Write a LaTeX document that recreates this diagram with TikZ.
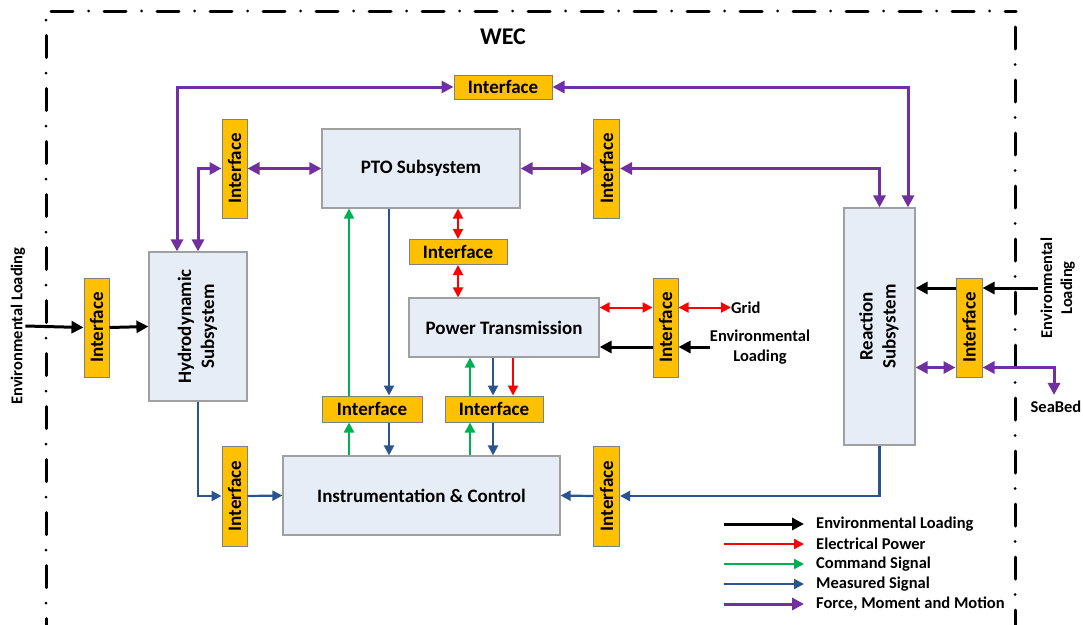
\documentclass[tikz,border=0pt]{standalone}
\usepackage{fontspec}
\setmainfont{Carlito}
\usetikzlibrary{arrows.meta}
\definecolor{fmm}{HTML}{7030A0}
\definecolor{elec}{HTML}{FF0000}
\definecolor{cmd}{HTML}{00B050}
\definecolor{meas}{HTML}{2A5490}
\definecolor{boxfill}{HTML}{E7EDF6}
\definecolor{boxline}{HTML}{A0A0A0}
\definecolor{ifyellow}{HTML}{FFC000}
\definecolor{ifline}{HTML}{808080}

\begin{document}
\begin{tikzpicture}[line join=miter,x=1pt,y=-1pt,
	sub/.style={draw=boxline,line width=1.2pt,fill=boxfill,inner sep=0pt,
		font=\fontsize{19}{23}\selectfont\bfseries},
	iface/.style={draw=ifline,line width=1pt,fill=ifyellow,inner sep=0pt,
		font=\fontsize{19}{23}\selectfont\bfseries},
	lbl/.style={inner sep=0pt,align=center,font=\fontsize{16.5}{20}\selectfont\bfseries},
	envarr/.style={line width=3pt,draw=black,>={Triangle[length=12pt,width=12pt]}},
	elecarr/.style={line width=2pt,draw=elec,>={Triangle[length=10pt,width=10pt]}},
	cmdarr/.style={line width=2.2pt,draw=cmd,>={Triangle[length=10pt,width=10pt]}},
	measarr/.style={line width=2.2pt,draw=meas,>={Triangle[length=10pt,width=10pt]}},
	fmmarr/.style={line width=3pt,draw=fmm,>={Triangle[length=12pt,width=12pt]}}]
	\useasboundingbox (0,0) rectangle (1083,624);
	% cadre WEC
	\draw[line width=3pt,line cap=round,dash pattern=on 22pt off 15.5pt on 0pt off 15.5pt] (51,11) -- (1016,11);
	\draw[line width=3pt,line cap=round,dash pattern=on 0pt off 15.5pt on 22pt off 15.5pt] (46,20) -- (46,630);
	\draw[line width=3pt,line cap=round,dash pattern=on 22pt off 15.5pt on 0pt off 15.5pt] (1015,27) -- (1015,630);
	\node[font=\fontsize{24}{28}\selectfont\bfseries] (wec) at (503,37) {WEC};
	% sous-systemes
	\node[sub,minimum width=98,minimum height=149] (hyd) at (198,326.5)
		{\rotatebox{90}{\begin{tabular}{@{}c@{}}Hydrodynamic\\Subsystem\end{tabular}}};
	\node[sub,minimum width=198,minimum height=79] (pto) at (421,168.5) {PTO Subsystem};
	\node[sub,minimum width=190,minimum height=59] (ptr) at (504,327.5) {Power Transmission};
	\node[sub,minimum width=277,minimum height=79] (ic) at (421.5,495.5) {Instrumentation \& Control};
	\node[sub,minimum width=71,minimum height=237] (rea) at (879.5,326.5)
		{\rotatebox{90}{\begin{tabular}{@{}c@{}}Reaction\\Subsystem\end{tabular}}};
	% interfaces
	\node[iface,minimum width=98,minimum height=24] (ift) at (503,87) {Interface};
	\node[iface,minimum width=25,minimum height=99] (ifa) at (234.5,168.5) {\rotatebox{90}{Interface}};
	\node[iface,minimum width=26,minimum height=99] (ifb) at (606.5,168.5) {\rotatebox{90}{Interface}};
	\node[iface,minimum width=98,minimum height=25] (ifc) at (458,252) {Interface};
	\node[iface,minimum width=25,minimum height=99] (ifd) at (665.5,327.5) {\rotatebox{90}{Interface}};
	\node[iface,minimum width=25,minimum height=99] (ifl) at (96.5,327.5) {\rotatebox{90}{Interface}};
	\node[iface,minimum width=26,minimum height=99] (ifr) at (969,327.5) {\rotatebox{90}{Interface}};
	\node[iface,minimum width=25,minimum height=100] (ife) at (234.5,496) {\rotatebox{90}{Interface}};
	\node[iface,minimum width=26,minimum height=100] (iff) at (606.5,496) {\rotatebox{90}{Interface}};
	\node[iface,minimum width=100,minimum height=26] (ifg) at (372,409) {Interface};
	\node[iface,minimum width=98,minimum height=26] (ifh) at (494,409) {Interface};
	% textes
	\node[lbl] (envl) at (18,326) {\rotatebox{90}{Environmental Loading}};
	\node[lbl] (envm) at (760,347) {Environmental\\Loading};
	\node[lbl] (envr) at (1058,288)
		{\rotatebox{90}{\begin{tabular}{@{}c@{}}Environmental\\Loading\end{tabular}}};
	\node[lbl,anchor=west] (grid) at (731,307.5) {Grid};
	\node[lbl] (seabed) at (1056,407) {SeaBed};
	% force, moment et mouvement
	\draw[fmmarr,<->] ([xshift=-21pt]hyd.north) |- (ift.west);
	\draw[fmmarr,<->] (ift.east) -| ([xshift=28.5pt]rea.north);
	\draw[fmmarr,<->] (hyd.north) |- (ifa.west);
	\draw[fmmarr,<->] (ifa.east) -- (pto.west);
	\draw[fmmarr,<->] (pto.east) -- (ifb.west);
	\draw[fmmarr,<->] (ifb.east) -| (rea.north);
	\draw[fmmarr,<->] ([yshift=-40pt]ifr.west) -- ([yshift=-40pt]ifr.west -| rea.east);
	\draw[fmmarr,<->] ([yshift=-40pt]ifr.east) -| ([xshift=-2pt,yshift=6pt]seabed.north);
	% puissance electrique
	\draw[elecarr,<->] (ifc.north) -- (ifc.north |- pto.south);
	\draw[elecarr,<->] (ifc.south) -- (ifc.south |- ptr.north);
	\draw[elecarr,<->] (grid.west -| ifd.west) -- (grid.west -| ptr.east);
	\draw[elecarr,<->] (grid.west -| ifd.east) -- (grid.west);
	\draw[elecarr,->] ([xshift=19pt]ifh.north |- ptr.south) -- ([xshift=19pt]ifh.north);
	% chargement environnemental
	\draw[envarr,->] (envl.east) -- (ifl.west);
	\draw[envarr,->] (ifl.east) -- (hyd.west);
	\draw[envarr,->] (envm.west) -- (envm.west -| ifd.east);
	\draw[envarr,->] (envm.west -| ifd.west) -- (envm.west -| ptr.east);
	\draw[envarr,->] (envr.west) -- (envr.west -| ifr.east);
	\draw[envarr,->] (envr.west -| ifr.west) -- (envr.west -| rea.east);
	% commande
	\draw[cmdarr,->] ([xshift=-23pt]ifg.south |- ic.north) -- ([xshift=-23pt]ifg.south);
	\draw[cmdarr,->] ([xshift=-23pt]ifg.north) -- ([xshift=-23pt]ifg.north |- pto.south);
	\draw[cmdarr,->] ([xshift=-24pt]ifh.south |- ic.north) -- ([xshift=-24pt]ifh.south);
	\draw[cmdarr,->] ([xshift=-24pt]ifh.north) -- ([xshift=-24pt]ifh.north |- ptr.south);
	% mesures
	\draw[measarr,->] ([xshift=17pt]ifg.north |- pto.south) -- ([xshift=17pt]ifg.north);
	\draw[measarr,->] ([xshift=17pt]ifg.south) -- ([xshift=17pt]ifg.south |- ic.north);
	\draw[measarr,->] ([xshift=-1pt]ifh.north |- ptr.south) -- ([xshift=-1pt]ifh.north);
	\draw[measarr,->] ([xshift=-1pt]ifh.south) -- ([xshift=-1pt]ifh.south |- ic.north);
	\draw[measarr,->] (hyd.south) |- (ife.west);
	\draw[measarr,->] (ife.east) -- (ic.west);
	\draw[measarr,->] (rea.south) |- (iff.east);
	\draw[measarr,->] (iff.west) -- (ic.east);
	% legende
	\foreach \st/\tx [count=\i] in {envarr/Environmental Loading,elecarr/Electrical Power,
		cmdarr/Command Signal,measarr/Measured Signal,{fmmarr/Force, Moment and Motion}}{
		\coordinate (legs\i) at (724,504+20*\i);
		\node[lbl,anchor=west] (leg\i) at (816,504+20*\i) {\tx};
		\draw[\st,->] (legs\i) -- ([xshift=-12pt]leg\i.west);
	}
\end{tikzpicture}
\end{document}
